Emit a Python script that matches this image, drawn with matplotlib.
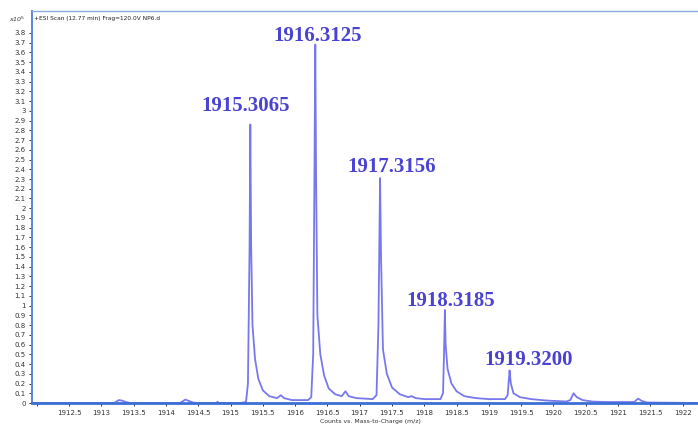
import matplotlib
matplotlib.use("Agg")
import matplotlib.pyplot as plt
import numpy as np

# Profile trace (m/z, counts in units of 1e5)
mz = [1911.93, 1913.20, 1913.27, 1913.32, 1913.38, 1913.45,
      1914.22, 1914.30, 1914.36, 1914.42, 1914.50,
      1914.78, 1914.80, 1914.82,
      1915.15, 1915.24, 1915.27, 1915.295, 1915.3065, 1915.32, 1915.34,
      1915.38, 1915.43, 1915.50, 1915.60, 1915.72, 1915.78, 1915.83, 1915.95,
      1916.20, 1916.25, 1916.28, 1916.30, 1916.3125, 1916.325, 1916.345,
      1916.39, 1916.45, 1916.52, 1916.62, 1916.72, 1916.78, 1916.83, 1916.95,
      1917.20, 1917.26, 1917.29, 1917.305, 1917.3156, 1917.33, 1917.36,
      1917.42, 1917.50, 1917.62, 1917.75, 1917.80, 1917.87, 1918.00,
      1918.25, 1918.29, 1918.305, 1918.3185, 1918.33, 1918.36,
      1918.42, 1918.50, 1918.62, 1918.80, 1919.00,
      1919.25, 1919.29, 1919.31, 1919.32, 1919.34, 1919.38,
      1919.48, 1919.65, 1919.90,
      1920.20, 1920.26, 1920.31, 1920.36, 1920.45, 1920.60, 1920.80,
      1921.25, 1921.31, 1921.37, 1921.45, 1922.24]
counts = [0.0, 0.0, 0.03, 0.025, 0.01, 0.0,
          0.0, 0.035, 0.02, 0.005, 0.0,
          0.0, 0.012, 0.0,
          0.0, 0.01, 0.2, 1.6, 2.86, 1.6, 0.8,
          0.45, 0.25, 0.13, 0.07, 0.05, 0.08, 0.05, 0.03,
          0.03, 0.06, 0.5, 2.4, 3.68, 2.3, 0.9,
          0.5, 0.28, 0.15, 0.09, 0.07, 0.12, 0.07, 0.05,
          0.04, 0.08, 0.8, 1.7, 2.31, 1.5, 0.55,
          0.3, 0.16, 0.09, 0.06, 0.07, 0.05, 0.04,
          0.04, 0.1, 0.5, 0.955, 0.6, 0.35,
          0.2, 0.12, 0.07, 0.05, 0.04,
          0.04, 0.08, 0.25, 0.335, 0.2, 0.1,
          0.06, 0.04, 0.025,
          0.015, 0.03, 0.1, 0.06, 0.03, 0.015, 0.01,
          0.01, 0.045, 0.02, 0.005, 0.0]

# Annotated isotope peaks
peak_mz = [1915.3065, 1916.3125, 1917.3156, 1918.3185, 1919.3200]
peak_counts = [2.86, 3.68, 2.31, 0.955, 0.335]
peak_labels = ["1915.3065", "1916.3125", "1917.3156", "1918.3185", "1919.3200"]

fig = plt.figure(figsize=(6.98, 4.24), dpi=100)
ax = fig.add_axes([32 / 698, 21 / 424, 666 / 698, 392 / 424])

ax.plot(mz, counts, color="#7878ee", lw=1.3, solid_joinstyle="round")

ax.set_xlim(1911.927, 1922.237)
ax.set_ylim(0, 4.025)

xt = np.arange(1912.0, 1922.01, 0.5)
ax.set_xticks(xt)
ax.set_xticklabels([""] + [f"{v:g}" for v in xt[1:]])
yt = np.round(np.arange(0, 3.81, 0.1), 1)
ax.set_yticks(yt)
ax.set_yticklabels([f"{v:g}" for v in yt])
ax.tick_params(axis="both", labelsize=5, colors="#333333", length=2.5,
               width=0.7, pad=2)
ax.tick_params(axis="x", pad=2.5)

ax.spines["right"].set_visible(False)
ax.spines["left"].set_color("#5a86d8")
ax.spines["left"].set_linewidth(1.4)
ax.spines["bottom"].set_color("#3c6fd6")
ax.spines["bottom"].set_linewidth(2.0)
ax.spines["top"].set_color("#8aaae6")
ax.spines["top"].set_linewidth(1.0)

# Peak annotations
label_dx = [-0.07, 0.04, 0.18, 0.09, 0.30]
label_y = [3.0, 3.72, 2.37, 1.0, 0.39]
for x, dx, y, t in zip(peak_mz, label_dx, label_y, peak_labels):
    ax.text(x + dx, y, t, ha="center", va="baseline",
            family="Liberation Serif", fontweight="bold", fontsize=15,
            color="#4a42d2")

ax.text(0.003, 0.988, "+ESI Scan (12.77 min) Frag=120.0V NP6.d",
        transform=ax.transAxes, ha="left", va="top", fontsize=4.2,
        color="#222222")
fig.text(9 / 698, 1 - 19 / 424, r"x10$^{5}$", ha="left", va="center",
         fontsize=4.5, color="#333333", style="italic")
fig.text(370 / 698, 1 - 421 / 424, "Counts vs. Mass-to-Charge (m/z)",
         ha="center", va="center", fontsize=4.4, color="#333333")

fig.savefig("out.png", dpi=100, facecolor="white")
